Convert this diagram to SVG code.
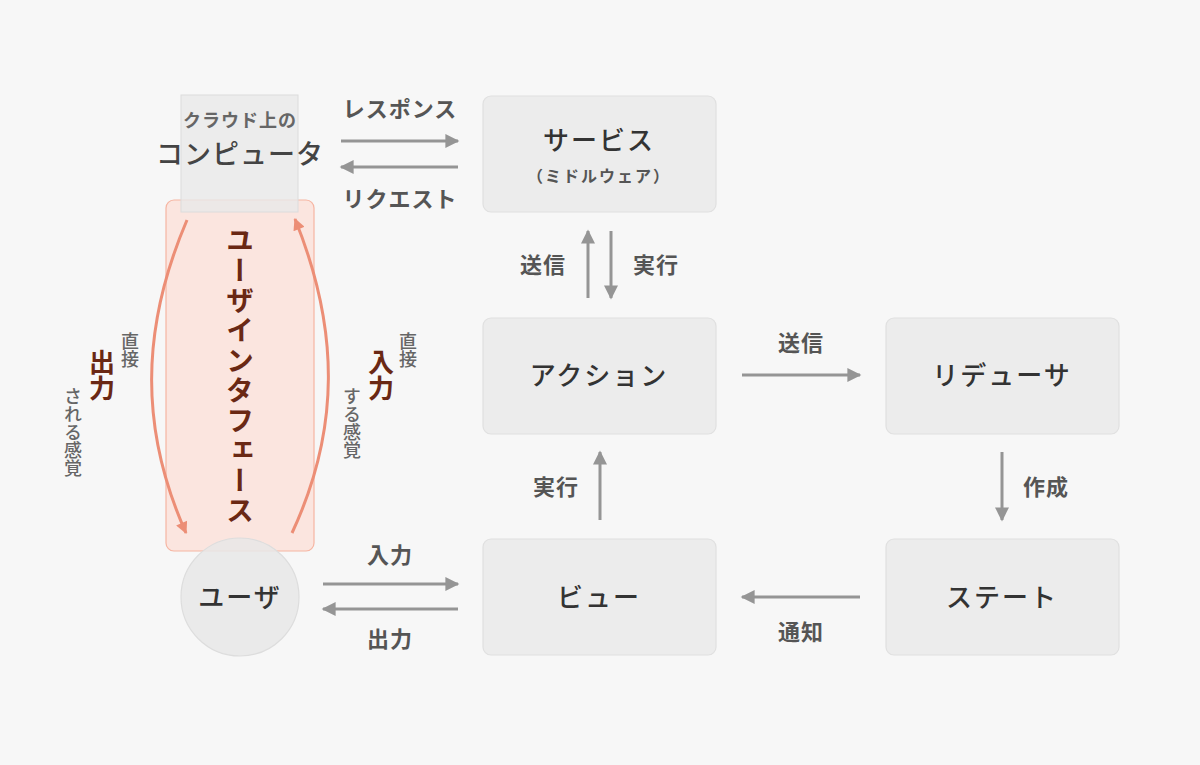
<svg xmlns="http://www.w3.org/2000/svg" width="1200" height="765" viewBox="0 0 1200 765">
<defs>
<style>
text{font-family:"Noto Sans CJK JP","Noto Sans",sans-serif;text-anchor:middle}
.box{fill:#ececec;stroke:#e0e0e0;stroke-width:1.2}
.lbl{font-size:26px;font-weight:500;fill:#333;letter-spacing:2px}
.edge{font-size:22px;font-weight:700;fill:#555;letter-spacing:1px}
.conn{stroke:#959595;stroke-width:3;fill:none}
.ui{stroke:#ec8e76;stroke-width:3;fill:none}
.brown{fill:#6a2814;font-weight:700}
.small{font-size:18px;fill:#666;font-weight:500}
</style>
<marker id="ah" viewBox="0 0 10 10" refX="9" refY="5" markerWidth="15" markerHeight="14" markerUnits="userSpaceOnUse" orient="auto"><path d="M0,0L10,5L0,10z" fill="#959595"/></marker>
<marker id="ahp" viewBox="0 0 10 10" refX="9" refY="5" markerWidth="13" markerHeight="12" markerUnits="userSpaceOnUse" orient="auto"><path d="M0,0L10,5L0,10z" fill="#ec8e76"/></marker>
</defs>
<rect width="1200" height="765" fill="#f7f7f7"/>

<g id="ui">
<rect x="166" y="200" width="148" height="351" rx="8" fill="#fbe0d8" fill-opacity="0.8" stroke="#f6b5a2" stroke-width="1.2"/>
<text x="240" y="226" writing-mode="vertical-rl" class="brown" font-size="28" letter-spacing="2" style="text-anchor:start">ユーザインタフェース</text>
</g>

<g id="cloud">
<rect x="181" y="95" width="117" height="117" fill="#e8e8e8" fill-opacity="0.8" stroke="#dcdcdc"/>
<text x="240" y="127" font-size="18" font-weight="700" fill="#666" letter-spacing="1">クラウド上の</text>
<text x="240" y="164" font-size="27" font-weight="500" fill="#444" letter-spacing="1">コンピュータ</text>
</g>

<g id="user">
<circle cx="240" cy="597" r="59" fill="#e8e8e8" fill-opacity="0.85" stroke="#dddddd" stroke-width="1.2"/>
<text x="240" y="607" class="lbl">ユーザ</text>
</g>

<g id="service">
<rect class="box" x="483" y="96" width="233" height="116" rx="8"/>
<text x="599" y="150" class="lbl">サービス</text>
<text x="599" y="182" font-size="16" font-weight="700" fill="#555" letter-spacing="2">（ミドルウェア）</text>
</g>
<g id="action">
<rect class="box" x="483" y="318" width="233" height="116" rx="8"/>
<text x="599" y="385" class="lbl">アクション</text>
</g>
<g id="reducer">
<rect class="box" x="886" y="318" width="233" height="116" rx="8"/>
<text x="1002" y="385" class="lbl">リデューサ</text>
</g>
<g id="view">
<rect class="box" x="483" y="539" width="233" height="116" rx="8"/>
<text x="599" y="607" class="lbl">ビュー</text>
</g>
<g id="state">
<rect class="box" x="886" y="539" width="233" height="116" rx="8"/>
<text x="1002" y="607" class="lbl">ステート</text>
</g>

<g id="connectors">
<line class="conn" x1="341" y1="141" x2="458" y2="141" marker-end="url(#ah)"/>
<line class="conn" x1="458" y1="167" x2="341" y2="167" marker-end="url(#ah)"/>
<text x="400" y="117" class="edge">レスポンス</text>
<text x="400" y="207" class="edge">リクエスト</text>

<line class="conn" x1="588" y1="298" x2="588" y2="231" marker-end="url(#ah)"/>
<line class="conn" x1="611" y1="231" x2="611" y2="298" marker-end="url(#ah)"/>
<text x="543" y="273" class="edge">送信</text>
<text x="656" y="273" class="edge">実行</text>

<line class="conn" x1="742" y1="375" x2="860" y2="375" marker-end="url(#ah)"/>
<text x="801" y="351" class="edge">送信</text>

<line class="conn" x1="1002" y1="452" x2="1002" y2="520" marker-end="url(#ah)"/>
<text x="1046" y="495" class="edge">作成</text>

<line class="conn" x1="860" y1="597" x2="742" y2="597" marker-end="url(#ah)"/>
<text x="801" y="640" class="edge">通知</text>

<line class="conn" x1="600" y1="520" x2="600" y2="452" marker-end="url(#ah)"/>
<text x="556" y="495" class="edge">実行</text>

<line class="conn" x1="323" y1="584" x2="458" y2="584" marker-end="url(#ah)"/>
<line class="conn" x1="458" y1="609" x2="323" y2="609" marker-end="url(#ah)"/>
<text x="390" y="563" class="edge">入力</text>
<text x="390" y="647" class="edge">出力</text>

<path class="ui" d="M187,220 C140,330 140,430 186,533" marker-end="url(#ahp)"/>
<path class="ui" d="M292,533 C340,430 340,330 295,219" marker-end="url(#ahp)"/>
</g>

<g id="side-labels">
<text x="102" y="349" writing-mode="vertical-rl" class="brown" font-size="26" style="text-anchor:start">出力</text>
<text x="130" y="332" writing-mode="vertical-rl" class="small" style="text-anchor:start">直接</text>
<text x="73" y="387" writing-mode="vertical-rl" class="small" style="text-anchor:start">される感覚</text>
<text x="381" y="349" writing-mode="vertical-rl" class="brown" font-size="26" style="text-anchor:start">入力</text>
<text x="408" y="332" writing-mode="vertical-rl" class="small" style="text-anchor:start">直接</text>
<text x="352" y="387" writing-mode="vertical-rl" class="small" style="text-anchor:start">する感覚</text>
</g>
</svg>
